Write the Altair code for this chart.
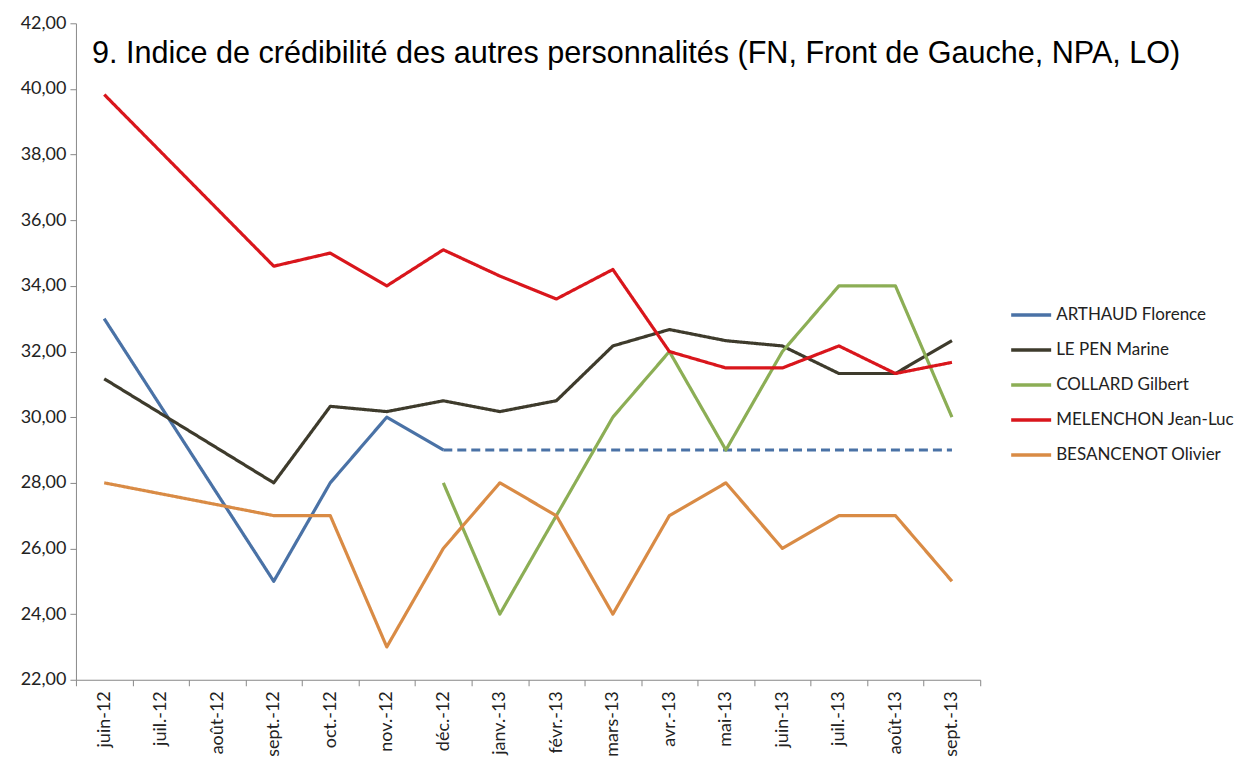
import altair as alt
import pandas as pd

months = ["juin-12", "juil.-12", "août-12", "sept.-12", "oct.-12", "nov.-12", "déc.-12",
          "janv.-13", "févr.-13", "mars-13", "avr.-13", "mai-13", "juin-13", "juil.-13",
          "août-13", "sept.-13"]

series_names = ["ARTHAUD Florence", "LE PEN Marine", "COLLARD Gilbert",
                "MELENCHON Jean-Luc", "BESANCENOT Olivier"]
colors = ["#4A72A6", "#3E3B2C", "#8CAE55", "#D9161C", "#D98B45"]

N = None
arthaud = [33.0, N, N, 25.0, 28.0, 30.0, 29.0, N, N, N, N, N, N, N, N, N]
arthaud_dash = [N, N, N, N, N, N, 29.0, 29.0, 29.0, 29.0, 29.0, 29.0, 29.0, 29.0, 29.0, 29.0]
lepen = [31.17, N, N, 28.0, 30.33, 30.17, 30.5, 30.17, 30.5, 32.17, 32.67, 32.33, 32.17,
         31.33, 31.33, 32.33]
collard = [N, N, N, N, N, N, 28.0, 24.0, 27.0, 30.0, 32.0, 29.0, 32.0, 34.0, 34.0, 30.0]
melenchon = [39.83, N, N, 34.6, 35.0, 34.0, 35.1, 34.3, 33.6, 34.5, 32.0, 31.5, 31.5,
             32.17, 31.33, 31.67]
besancenot = [28.0, N, N, 27.0, 27.0, 23.0, 26.0, 28.0, 27.0, 24.0, 27.0, 28.0, 26.0,
              27.0, 27.0, 25.0]

rows = []
for name, vals, dash in [
    ("ARTHAUD Florence", arthaud, "solid"),
    ("ARTHAUD Florence", arthaud_dash, "dash"),
    ("LE PEN Marine", lepen, "solid"),
    ("COLLARD Gilbert", collard, "solid"),
    ("MELENCHON Jean-Luc", melenchon, "solid"),
    ("BESANCENOT Olivier", besancenot, "solid"),
]:
    for m, v in zip(months, vals):
        if v is not None:
            rows.append({"mois": m, "valeur": v, "serie": name, "trait": dash,
                         "grp": name + "_" + dash})
df = pd.DataFrame(rows)

FONT = "Lato"

x_enc = alt.X("mois:N", sort=months, title=None,
              scale=alt.Scale(domain=months, paddingInner=0, paddingOuter=0),
              axis=alt.Axis(labelAngle=-90, labelFontSize=18, labelFont=FONT,
                            labelColor="#222", labelPadding=5, tickBand="extent",
                            tickSize=6, tickColor="#888", domainColor="#888",
                            labelAlign="right", labelBaseline="middle"))
y_enc = alt.Y("valeur:Q", title=None,
              scale=alt.Scale(domain=[22, 42], nice=False, zero=False),
              axis=alt.Axis(values=list(range(22, 43, 2)), grid=False,
                            labelExpr="replace(format(datum.value, '.2f'), '.', ',')",
                            labelFontSize=18, labelFont=FONT, labelColor="#222",
                            tickSize=6, tickColor="#888", domainColor="#888",
                            labelPadding=4))

chart = alt.Chart(df).mark_line(strokeWidth=3.2, strokeJoin="round").encode(
    x=x_enc,
    y=y_enc,
    color=alt.Color("serie:N", sort=series_names,
                    scale=alt.Scale(domain=series_names, range=colors),
                    legend=alt.Legend(title=None, orient="none", legendX=934, legendY=270,
                                      symbolType="stroke", symbolSize=1600,
                                      symbolStrokeWidth=3.5, labelFontSize=17,
                                      labelFont=FONT, labelColor="#222", labelLimit=400,
                                      rowPadding=5, labelOffset=3)),
    strokeDash=alt.StrokeDash("trait:N",
                              scale=alt.Scale(domain=["solid", "dash"],
                                              range=[[1, 0], [9, 5]]),
                              legend=None),
    detail="grp:N",
).properties(
    width=905,
    height=657,
    title=alt.TitleParams(
        "9. Indice de crédibilité des autres personnalités (FN, Front de Gauche, NPA, LO)",
        anchor="start", frame="group", offset=-55, dx=16,
        fontSize=30.6, font="Liberation Sans", fontWeight="normal", color="#000",
        baseline="top"),
).configure(
    padding={"left": 12, "top": 6, "right": 5, "bottom": 5}
).configure_view(stroke=None)

chart.save("out.html", embed_options={"renderer": "svg", "actions": False})
